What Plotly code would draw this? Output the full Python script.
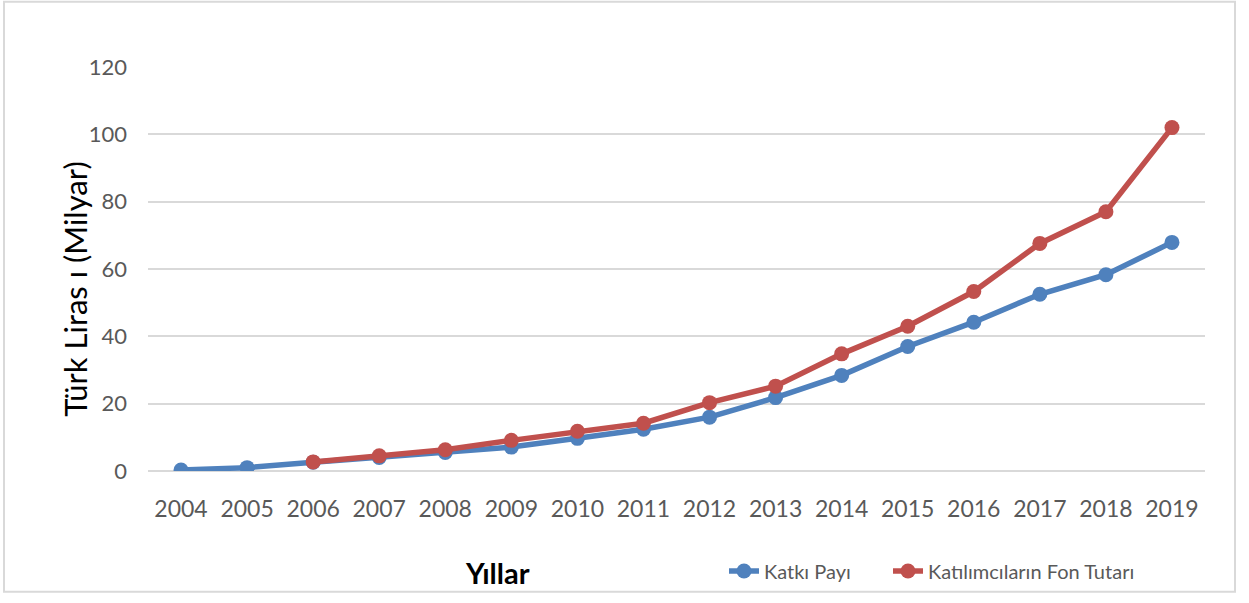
import plotly.graph_objects as go

years = [str(y) for y in range(2004, 2020)]
katki_payi = [0.3, 1.0, 2.6, 4.0, 5.5, 7.1, 9.7, 12.4, 16.0, 21.8, 28.4, 37.0, 44.2, 52.5, 58.3, 67.9]
fon_tutari = [None, None, 2.7, 4.5, 6.3, 9.1, 11.8, 14.2, 20.3, 25.2, 34.8, 43.0, 53.3, 67.6, 77.0, 102.0]
y_ticks = [0, 20, 40, 60, 80, 100, 120]

BLUE = "#4F81BD"
RED = "#C0504D"
GRID = "#D9D9D9"
FONT = "Lato"

W, H = 1249, 603
L, T, R, B = 148, 67, 44, 128
pw, ph = W - L - R, H - T - B

def px_x(x):
    return (x - L) / pw

def px_y(y):
    return (H - B - y) / ph

fig = go.Figure()
fig.add_trace(go.Scatter(x=years, y=katki_payi, name="Katkı Payı", mode="lines+markers",
                         line=dict(color=BLUE, width=5.5), marker=dict(size=15, color=BLUE),
                         legend="legend"))
fig.add_trace(go.Scatter(x=years, y=fon_tutari, name="Katılımcıların Fon Tutarı", mode="lines+markers",
                         line=dict(color=RED, width=5.5), marker=dict(size=15, color=RED),
                         legend="legend2"))

leg_common = dict(orientation="h", xanchor="left", yanchor="middle",
                  font=dict(size=20, color="#595959", family=FONT), bgcolor="rgba(0,0,0,0)")

fig.update_layout(
    width=W, height=H,
    margin=dict(l=L, r=R, t=T, b=B, pad=0),
    paper_bgcolor="white", plot_bgcolor="white",
    font=dict(family=FONT, color="#595959", size=22),
    showlegend=True,
    legend=dict(x=px_x(724), y=px_y(576), **leg_common),
    legend2=dict(x=px_x(888), y=px_y(576), **leg_common),
    xaxis=dict(type="category", range=[-0.5, 15.5], showgrid=False, zeroline=False, showline=False,
               ticks="", ticklabelstandoff=22, tickfont=dict(size=23, color="#595959")),
    yaxis=dict(range=[0, 120], tickvals=y_ticks, showgrid=True, gridcolor=GRID, gridwidth=1.5,
               zeroline=True, zerolinecolor=GRID, zerolinewidth=1.5, showline=False, ticks="",
               ticklabelstandoff=20, tickfont=dict(size=22, color="#595959")),
    annotations=[
        dict(text="Türk Liras ı (Milyar)", xref="paper", yref="paper", x=px_x(75), y=px_y(292),
             xanchor="center", yanchor="middle", textangle=-90, showarrow=False,
             font=dict(size=31, color="black", family=FONT)),
        dict(text="<b>Yıllar</b>", xref="paper", yref="paper", x=px_x(497), y=px_y(577),
             xanchor="center", yanchor="middle", showarrow=False,
             font=dict(size=29, color="black", family=FONT)),
    ],
    shapes=[
        dict(type="rect", xref="paper", yref="paper", x0=px_x(4), x1=px_x(1235), y0=px_y(597), y1=px_y(1),
             line=dict(color=GRID, width=2), layer="below"),
    ],
)

fig.write_html("out.html", config={"displayModeBar": False},
               post_script="document.body.style.margin='0';document.body.style.overflow='hidden';")
